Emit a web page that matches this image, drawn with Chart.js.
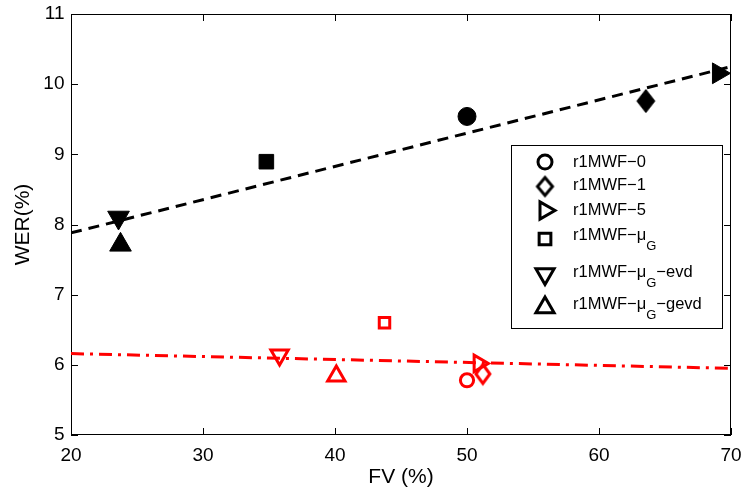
<!DOCTYPE html>
<html><head><meta charset="utf-8">
<script src="https://cdn.jsdelivr.net/npm/chart.js@4/dist/chart.umd.min.js"></script>
<style>html,body{margin:0;padding:0;background:#fff}#wrap{width:746px;height:492px}</style>
</head><body><div id="wrap"><canvas id="c" width="746" height="492"></canvas></div>
<script>
// ---- data ----
const seriesNames = ['r1MWF\u22120', 'r1MWF\u22121', 'r1MWF\u22125', 'r1MWF\u2212\u03bcG', 'r1MWF\u2212\u03bcG\u2212evd', 'r1MWF\u2212\u03bcG\u2212gevd'];
const fvBlack  = [50.0, 63.55, 69.05, 34.8, 23.6, 23.75];
const werBlack = [9.54, 9.76, 10.155, 8.895, 8.10, 7.71];
const fvRed    = [50.0, 51.2, 50.9, 43.75, 35.8, 40.1];
const werRed   = [5.78, 5.87, 6.02, 6.60, 6.14, 5.84];
const fitBlackX = [20, 70];
const fitBlackY = [7.88, 10.25];
const fitRedX = [20, 70];
const fitRedY = [6.16, 5.95];
const xTickLabels = [20, 30, 40, 50, 60, 70];
const yTickLabels = [5, 6, 7, 8, 9, 10, 11];

// legend label pieces: [normal, subscript, normal]
const legendParts = [
  ['r1MWF\u22120'], ['r1MWF\u22121'], ['r1MWF\u22125'],
  ['r1MWF\u2212\u03bc', 'G'], ['r1MWF\u2212\u03bc', 'G', '\u2212evd'], ['r1MWF\u2212\u03bc', 'G', '\u2212gevd']
];

// ---- styles ----
const FONT = "'Liberation Sans', Arial, Helvetica, sans-serif";
const RED = '#ff0000';
function makeDiamond(hw, hh, fill, stroke, lw) {
  const pad = lw + 2;
  const c = document.createElement('canvas');
  c.width = Math.round(2 * hw + 2 * pad); c.height = Math.round(2 * hh + 2 * pad);
  const g = c.getContext('2d');
  const cx = c.width / 2, cy = c.height / 2;
  g.beginPath();
  g.moveTo(cx, cy - hh); g.lineTo(cx + hw, cy); g.lineTo(cx, cy + hh); g.lineTo(cx - hw, cy); g.closePath();
  if (fill) { g.fillStyle = fill; g.fill(); }
  if (stroke) { g.lineJoin = 'miter'; g.lineWidth = lw; g.strokeStyle = stroke; g.stroke(); }
  return c;
}
const blackStyles = ['circle', makeDiamond(9, 11.5, '#000', '#000', 1), 'triangle', 'rect', 'triangle', 'triangle'];
const redStyles = ['circle', makeDiamond(7, 9.5, null, RED, 3), 'triangle', 'rect', 'triangle', 'triangle'];
const rotations = [0, 0, 90, 0, 180, 0];
const blackRadii = [9, 11, 12, 10.3, 12.5, 12.5];
const redRadii = [6.6, 9, 9.5, 7.4, 10, 10];

const frameTicks = {
  id: 'frameTicks',
  beforeDatasetsDraw(chart) {
    const { ctx, chartArea: a, scales: { x, y } } = chart;
    ctx.save();
    ctx.strokeStyle = '#000'; ctx.lineWidth = 1;
    ctx.beginPath();
    xTickLabels.forEach(v => {
      const p = Math.round(x.getPixelForValue(v)) + 0.5;
      ctx.moveTo(p, a.bottom); ctx.lineTo(p, a.bottom - 7);
      ctx.moveTo(p, a.top); ctx.lineTo(p, a.top + 7);
    });
    yTickLabels.forEach(v => {
      const p = Math.round(y.getPixelForValue(v)) + 0.5;
      ctx.moveTo(a.left, p); ctx.lineTo(a.left + 7, p);
      ctx.moveTo(a.right, p); ctx.lineTo(a.right - 7, p);
    });
    ctx.stroke();
    ctx.strokeRect(Math.round(a.left) + 0.5, Math.round(a.top) + 0.5, Math.round(a.width) - 1, Math.round(a.height) - 1);
    ctx.restore();
  }
};

const legendBox = {
  id: 'legendBox',
  afterDatasetsDraw(chart) {
    const ctx = chart.ctx;
    ctx.save();
    ctx.fillStyle = '#fff'; ctx.strokeStyle = '#000'; ctx.lineWidth = 1;
    ctx.fillRect(511, 145, 211, 183);
    ctx.strokeRect(511.5, 145.5, 211, 183);
    const mx = 545;
    const markerY = [162, 186.5, 210.5, 239, 274, 307.5];
    const baseY = [166.5, 190, 215, 240, 276.5, 308.5];
    const lStyles = ['circle', makeDiamond(7.5, 9, null, '#000', 3), 'triangle', 'rect', 'triangle', 'triangle'];
    const lRadii = [7, 9, 10, 8.3, 10.5, 10.5];
    for (let i = 0; i < seriesNames.length; i++) {
      ctx.strokeStyle = '#000'; ctx.fillStyle = 'rgba(0,0,0,0)'; ctx.lineWidth = 3;
      Chart.helpers.drawPoint(ctx, { pointStyle: lStyles[i], radius: lRadii[i], rotation: rotations[i], borderWidth: 3 }, mx, markerY[i]);
      ctx.fillStyle = '#000';
      ctx.textBaseline = 'alphabetic'; ctx.textAlign = 'left';
      let tx = 573;
      legendParts[i].forEach((part, k) => {
        if (k === 1) {
          ctx.font = '13px ' + FONT;
          ctx.fillText(part, tx, baseY[i] + 10);
        } else {
          ctx.font = '16.5px ' + FONT;
          ctx.fillText(part, tx, baseY[i]);
        }
        tx += ctx.measureText(part).width;
      });
    }
    ctx.restore();
  }
};

const toXY = (xs, ys) => xs.map((v, i) => ({ x: v, y: ys[i] }));
const zeroPad = s => { s.paddingLeft = 0; s.paddingRight = 0; s.paddingTop = 0; s.paddingBottom = 0; };

new Chart(document.getElementById('c'), {
  type: 'scatter',
  data: {
    datasets: [
      { label: 'fit black', data: toXY(fitBlackX, fitBlackY), showLine: true, pointRadius: 0,
        borderColor: '#000', borderWidth: 3, borderDash: [11, 7], order: 3 },
      { label: 'fit red', data: toXY(fitRedX, fitRedY), showLine: true, pointRadius: 0,
        borderColor: RED, borderWidth: 3, borderDash: [13, 6, 3, 6], order: 3 },
      { label: 'black', data: toXY(fvBlack, werBlack), pointStyle: blackStyles, pointRotation: rotations,
        pointRadius: blackRadii, backgroundColor: '#000', borderColor: '#000', borderWidth: 1, clip: false, order: 1 },
      { label: 'red', data: toXY(fvRed, werRed), pointStyle: redStyles, pointRotation: rotations,
        pointRadius: redRadii, backgroundColor: 'rgba(0,0,0,0)', borderColor: RED, borderWidth: 3, clip: false, order: 2 }
    ]
  },
  options: {
    responsive: false, animation: false,
    layout: { autoPadding: false, padding: { left: 0, right: 15, top: 14, bottom: 0 } },
    plugins: { legend: { display: false }, tooltip: { enabled: false } },
    scales: {
      x: {
        type: 'linear', min: 20, max: 70,
        afterBuildTicks: s => { s.ticks = xTickLabels.map(v => ({ value: v })); },
        afterFit: s => { s.height = 57; zeroPad(s); },
        grid: { display: false, drawTicks: false }, border: { display: false },
        ticks: { color: '#000', font: { family: FONT, size: 19 }, padding: 9, maxRotation: 0 },
        title: { display: true, text: 'FV (%)', color: '#000', font: { family: FONT, size: 21 }, padding: { top: 0, bottom: 2.4 } }
      },
      y: {
        type: 'linear', min: 5, max: 11,
        afterBuildTicks: s => { s.ticks = yTickLabels.map(v => ({ value: v })); },
        afterFit: s => { s.width = 71; zeroPad(s); },
        grid: { display: false, drawTicks: false }, border: { display: false },
        ticks: { color: '#000', font: { family: FONT, size: 19 }, padding: 6.5 },
        title: { display: true, text: 'WER(%)', color: '#000', font: { family: FONT, size: 21 }, padding: { top: 10.4, bottom: 0 } }
      }
    }
  },
  plugins: [frameTicks, legendBox]
});
</script>
</body></html>
